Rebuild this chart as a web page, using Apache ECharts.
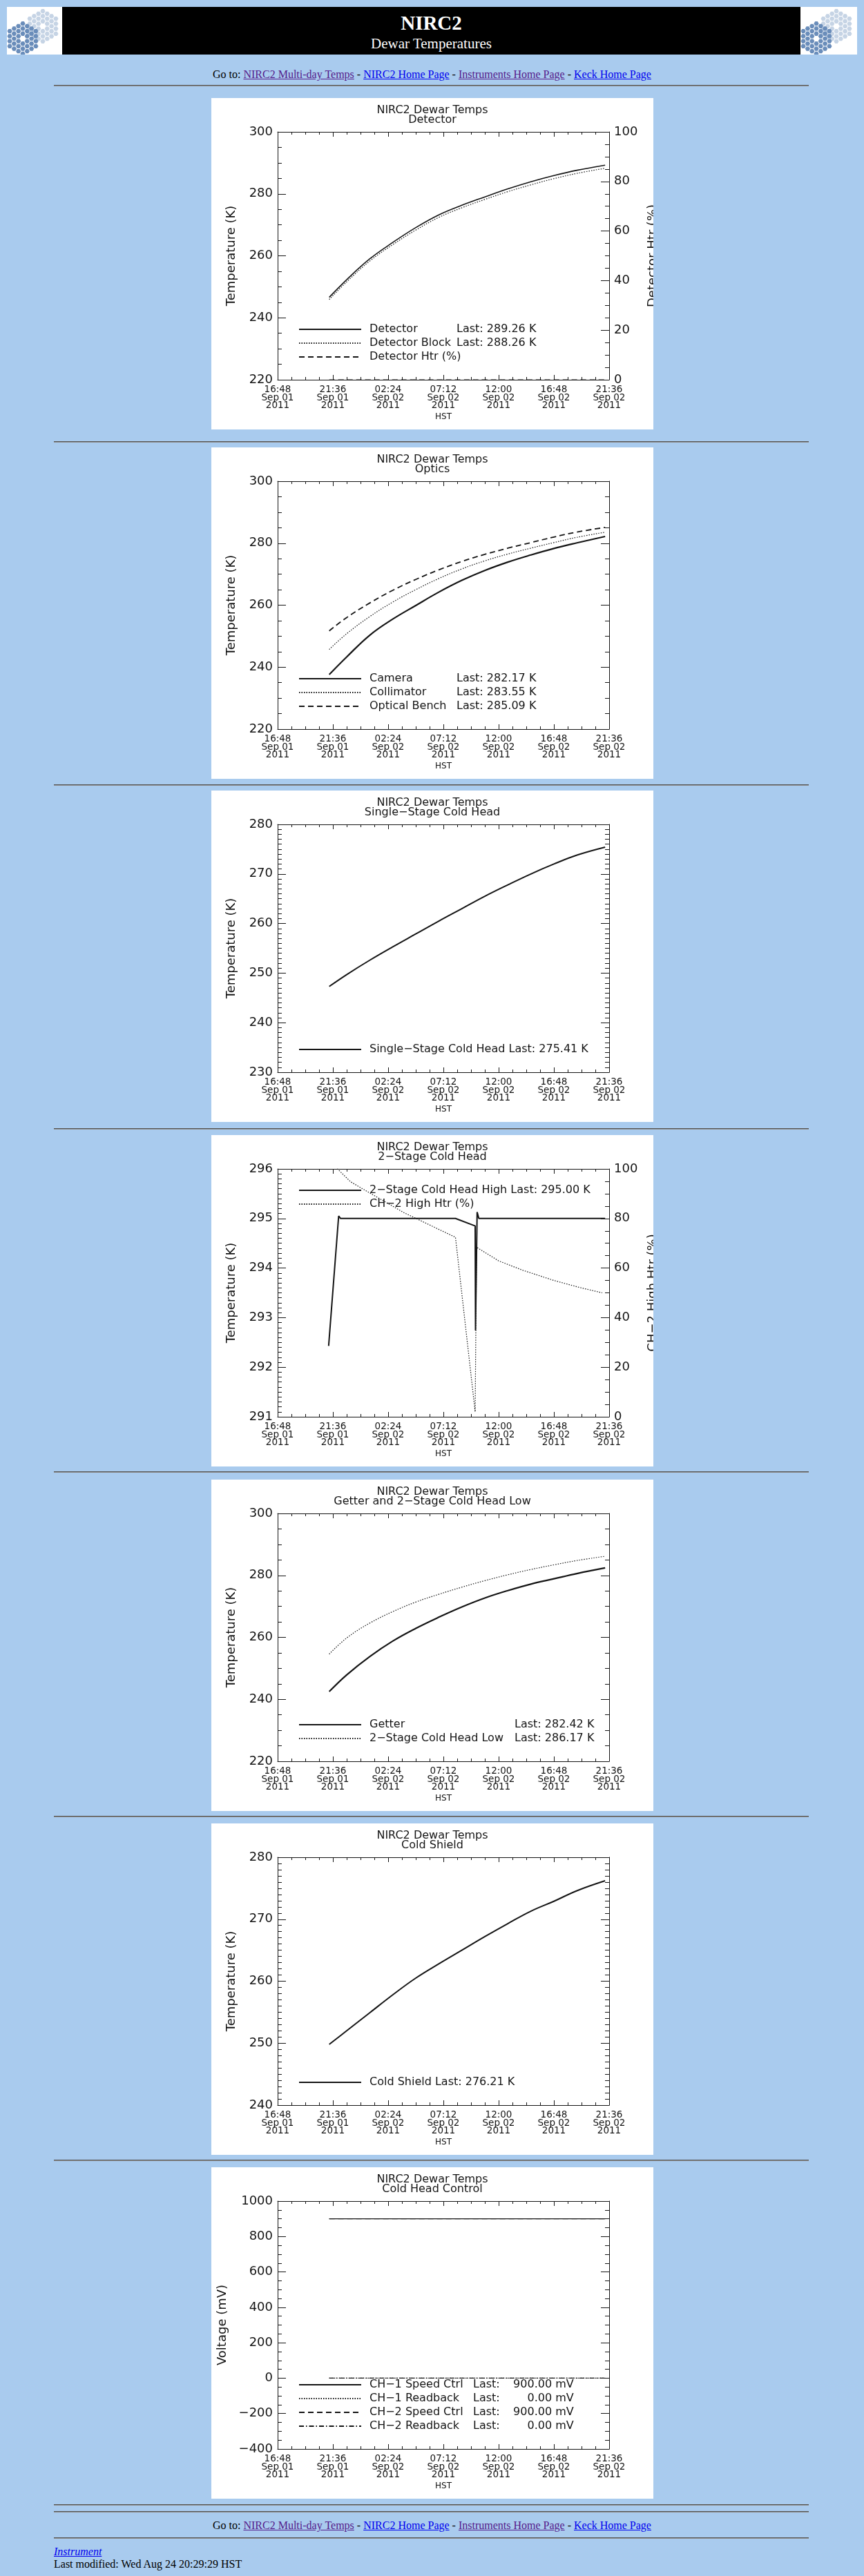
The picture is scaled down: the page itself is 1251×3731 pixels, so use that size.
<!DOCTYPE html>
<html>
<head>
<meta charset="utf-8">
<title>NIRC2 Dewar Temperatures</title>
<script src="https://cdn.jsdelivr.net/npm/echarts@6/dist/echarts.min.js"></script>
<style>
html, body { margin: 0; padding: 0; }
body {
  background: #a9cbee; width: 1251px; height: 3731px; position: relative; overflow: hidden;
  font-family: "Liberation Serif", "Times New Roman", serif; font-size: 16px; color: #000;
}
a { color: #0000ee; }
a.v { color: #551a8b; }
.hr { position: absolute; left: 78px; width: 1093px; height: 0; border-top: 1px solid #555; border-bottom: 1px solid #8c8c8c; }
.goto { position: absolute; left: 0; width: 1251px; text-align: center; line-height: 20px; }
.panel { position: absolute; left: 306px; width: 640px; height: 480px; background: #fff; }
.icon { position: absolute; top: 10px; height: 69px; background: #fff; overflow: hidden; }
#bar { position: absolute; left: 90px; top: 10px; width: 1069px; height: 69px; background: #000; color: #fff; text-align: center; }
#bar .t1 { position: absolute; left: 0; width: 100%; top: 8px; font-size: 29px; font-weight: bold; line-height: 30px; }
#bar .t2 { position: absolute; left: 0; width: 100%; top: 42px; font-size: 21px; line-height: 22px; }
.foot { position: absolute; left: 78px; line-height: 18px; }
</style>
</head>
<body>
<div class="icon" id="iconL" style="left:10px;width:80px"></div>
<div id="bar"><div class="t1">NIRC2</div><div class="t2">Dewar Temperatures</div></div>
<div class="icon" id="iconR" style="left:1159px;width:82px"></div>

<div class="goto" style="top:98px">Go to: <a class="v" href="#">NIRC2 Multi-day Temps</a> - <a href="#">NIRC2 Home Page</a> - <a class="v" href="#">Instruments Home Page</a> - <a href="#">Keck Home Page</a></div>
<div class="hr" style="top:123px"></div>

<div class="panel" id="p1" style="top:142px"></div>
<div class="hr" style="top:639px"></div>
<div class="panel" id="p2" style="top:648px"></div>
<div class="hr" style="top:1136px"></div>
<div class="panel" id="p3" style="top:1145px"></div>
<div class="hr" style="top:1634px"></div>
<div class="panel" id="p4" style="top:1644px"></div>
<div class="hr" style="top:2131px"></div>
<div class="panel" id="p5" style="top:2143px"></div>
<div class="hr" style="top:2630px"></div>
<div class="panel" id="p6" style="top:2641px"></div>
<div class="hr" style="top:3128px"></div>
<div class="panel" id="p7" style="top:3139px"></div>
<div class="hr" style="top:3627px"></div>
<div class="hr" style="top:3637px"></div>

<div class="goto" style="top:3648px">Go to: <a class="v" href="#">NIRC2 Multi-day Temps</a> - <a href="#">NIRC2 Home Page</a> - <a class="v" href="#">Instruments Home Page</a> - <a href="#">Keck Home Page</a></div>
<div class="hr" style="top:3675px"></div>
<div class="foot" style="top:3687px"><a href="#"><i>Instrument</i></a></div>
<div class="foot" style="top:3705px">Last modified: Wed Aug 24 20:29:29 HST</div>

<script>
// hours since 16:48 HST Sep 01 2011
const xTickLabels = [
  '16:48\nSep 01\n2011', '21:36\nSep 01\n2011', '02:24\nSep 02\n2011', '07:12\nSep 02\n2011',
  '12:00\nSep 02\n2011', '16:48\nSep 02\n2011', '21:36\nSep 02\n2011'
]
const hrs = [4.48, 6.0, 8.0, 10.0, 12.0, 14.0, 16.0, 18.0, 20.0, 22.0, 24.0, 26.0, 28.45]

// Detector
const detector = [246.6, 252.3, 259.0, 264.3, 269.1, 273.2, 276.3, 279.0, 281.6, 283.9, 285.9, 287.6, 289.26]
const detectorBlock = [245.9, 251.6, 258.3, 263.6, 268.3, 272.4, 275.5, 278.2, 280.7, 282.9, 284.9, 286.6, 288.26]
const detectorHtr = [0, 0, 0, 0, 0, 0, 0, 0, 0, 0, 0, 0, 0]

// Optics
const camera = [237.6, 243.3, 250.3, 255.5, 259.9, 264.2, 268.0, 271.2, 273.9, 276.2, 278.3, 280.1, 282.17]
const collimator = [245.7, 250.8, 256.3, 261.0, 265.0, 268.6, 271.7, 274.3, 276.5, 278.4, 280.2, 281.9, 283.55]
const opticalBench = [251.7, 256.0, 260.7, 264.8, 268.3, 271.4, 274.1, 276.4, 278.4, 280.2, 282.0, 283.6, 285.09]

// Single-stage cold head
const singleStage = [247.3, 249.7, 252.6, 255.3, 257.9, 260.5, 263.0, 265.5, 267.8, 270.0, 272.0, 273.8, 275.41]

// 2-stage cold head (own time samples)
const highHrs = [4.43, 5.3, 5.47, 15.45, 17.16, 17.19, 17.33, 17.48, 28.45]
const coldHeadHigh = [292.43, 295.05, 295.0, 295.0, 294.85, 292.74, 295.13, 295.0, 295.0]
const htrHrs = [4.43, 6.34, 10.9, 15.45, 17.16, 17.28, 19.2, 21.3, 24.0, 26.2, 28.2]
const ch2HighHtr = [103.5, 94.8, 82.5, 72.4, 2, 68.4, 62.9, 59.1, 55.0, 52.2, 50.0]

// Getter and 2-stage low
const getter = [242.5, 247.9, 253.8, 258.8, 262.9, 266.5, 269.8, 272.7, 275.1, 277.2, 278.9, 280.6, 282.42]
const coldHeadLow = [254.6, 259.8, 264.6, 268.3, 271.4, 273.9, 276.2, 278.3, 280.2, 281.9, 283.4, 284.8, 286.17]

// Cold shield
const coldShield = [249.8, 252.0, 254.9, 257.8, 260.5, 262.8, 265.0, 267.2, 269.3, 271.3, 272.9, 274.6, 276.21]

// Cold head control (mV)
const ctrlHrs = [4.48, 28.45]
const ch1Speed = [900, 900]
const ch1Readback = [0, 0]
const ch2Speed = [900, 900]
const ch2Readback = [0, 0]

const FONT = 'DejaVu Sans'
const INK = '#141414'
const DOT = [1.5, 2]
const DASH = [8, 5]
const DASHDOT = [7, 3, 1.5, 3]

const pairs = (xs, ys) => xs.map((x, i) => [x, ys[i]])
const fmtNum = v => String(v).replace('-', '\u2212')

const panels = [
  {
    id: 'p1', sub: 'Detector', y: [220, 300, 20, 4], yName: 'Temperature (K)',
    y2: { min: 0, max: 100, step: 20, minor: 4, name: 'Detector Htr (%)' },
    legend: { bottom: 97, nameW: 126 },
    series: [
      { name: 'Detector', data: pairs(hrs, detector), width: 1.6, leg: ['Detector', 'Last: 289.26 K'] },
      { name: 'Detector Block', data: pairs(hrs, detectorBlock), width: 1.2, type: DOT, leg: ['Detector Block', 'Last: 288.26 K'] },
      { name: 'Detector Htr (%)', data: pairs(hrs, detectorHtr), width: 1, type: DASH, axis: 1, leg: ['Detector Htr (%)'] }
    ]
  },
  {
    id: 'p2', sub: 'Optics', y: [220, 300, 20, 4], yName: 'Temperature (K)',
    legend: { bottom: 97, nameW: 126 },
    series: [
      { name: 'Camera', data: pairs(hrs, camera), width: 2.2, leg: ['Camera', 'Last: 282.17 K'] },
      { name: 'Collimator', data: pairs(hrs, collimator), width: 1.2, type: DOT, leg: ['Collimator', 'Last: 283.55 K'] },
      { name: 'Optical Bench', data: pairs(hrs, opticalBench), width: 1.8, type: DASH, leg: ['Optical Bench', 'Last: 285.09 K'] }
    ]
  },
  {
    id: 'p3', sub: 'Single\u2212Stage Cold Head', y: [230, 280, 10, 10], yName: 'Temperature (K)',
    legend: { bottom: 97 },
    series: [
      { name: 'Single-Stage Cold Head', data: pairs(hrs, singleStage), width: 2, leg: ['Single\u2212Stage Cold Head Last: 275.41 K'] }
    ]
  },
  {
    id: 'p4', sub: '2\u2212Stage Cold Head', y: [291, 296, 1, 10], yName: 'Temperature (K)',
    y2: { min: 0, max: 100, step: 20, minor: 4, name: 'CH\u22122 High Htr (%)' },
    legend: { top: 72 }, straight: true,
    series: [
      { name: '2-Stage Cold Head High', data: pairs(highHrs, coldHeadHigh), width: 2, leg: ['2\u2212Stage Cold Head High Last: 295.00 K'] },
      { name: 'CH-2 High Htr (%)', data: pairs(htrHrs, ch2HighHtr), width: 1.2, type: DOT, axis: 1, leg: ['CH\u22122 High Htr (%)'] }
    ]
  },
  {
    id: 'p5', sub: 'Getter and 2\u2212Stage Cold Head Low', y: [220, 300, 20, 4], yName: 'Temperature (K)',
    legend: { bottom: 97, nameW: 210 },
    series: [
      { name: 'Getter', data: pairs(hrs, getter), width: 2.2, leg: ['Getter', 'Last: 282.42 K'] },
      { name: '2-Stage Cold Head Low', data: pairs(hrs, coldHeadLow), width: 1.2, type: DOT, leg: ['2\u2212Stage Cold Head Low', 'Last: 286.17 K'] }
    ]
  },
  {
    id: 'p6', sub: 'Cold Shield', y: [240, 280, 10, 10], yName: 'Temperature (K)',
    legend: { bottom: 97 },
    series: [
      { name: 'Cold Shield', data: pairs(hrs, coldShield), width: 2, leg: ['Cold Shield Last: 276.21 K'] }
    ]
  },
  {
    id: 'p7', sub: 'Cold Head Control', y: [-400, 1000, 200, 4], yName: 'Voltage (mV)', yNameGap: 71,
    legend: { bottom: 97, nameW: 150, valW: 107 }, straight: true,
    series: [
      { name: 'CH-1 Speed Ctrl', data: pairs(ctrlHrs, ch1Speed), width: 1.4, leg: ['CH\u22121 Speed Ctrl', 'Last:', '900.00 mV'] },
      { name: 'CH-1 Readback', data: pairs(ctrlHrs, ch1Readback), width: 1.2, type: DOT, leg: ['CH\u22121 Readback', 'Last:', '0.00 mV'] },
      { name: 'CH-2 Speed Ctrl', data: pairs(ctrlHrs, ch2Speed), width: 1, type: DASH, leg: ['CH\u22122 Speed Ctrl', 'Last:', '900.00 mV'] },
      { name: 'CH-2 Readback', data: pairs(ctrlHrs, ch2Readback), width: 1.3, type: DASHDOT, leg: ['CH\u22122 Readback', 'Last:', '0.00 mV'] }
    ]
  }
]

const txt = (size, extra) => Object.assign({ fontFamily: FONT, fontSize: size, color: INK }, extra || {})

const xAxis = position => ({
  type: 'value', position, min: 0, max: 28.8, interval: 4.8,
  axisLine: { show: true, onZero: false, lineStyle: { color: INK, width: 1 } },
  axisTick: { show: true, inside: true, length: 7, lineStyle: { color: INK } },
  minorTick: { show: true, splitNumber: 4, length: 4, lineStyle: { color: INK } },
  splitLine: { show: false },
  axisLabel: position === 'bottom'
    ? txt(13.5, { margin: 8.5, lineHeight: 11.7, hideOverlap: false, formatter: v => xTickLabels[Math.round(v / 4.8)] })
    : { show: false },
  name: position === 'bottom' ? 'HST' : '',
  nameLocation: 'middle', nameGap: 48, nameMoveOverlap: false,
  nameTextStyle: txt(12)
})

const yAxis = (position, min, max, step, minor, label, name, gap) => ({
  type: 'value', position, min, max, interval: step,
  axisLine: { show: true, onZero: false, lineStyle: { color: INK, width: 1 } },
  axisTick: { show: true, inside: true, length: 12, lineStyle: { color: INK } },
  minorTick: { show: true, splitNumber: minor, length: 6, lineStyle: { color: INK } },
  splitLine: { show: false },
  axisLabel: label ? txt(18, { margin: 7, hideOverlap: false, formatter: fmtNum }) : { show: false },
  name: name || '', nameLocation: 'middle', nameRotate: 90, nameGap: gap, nameMoveOverlap: false,
  nameTextStyle: txt(18)
})

const legendFormatter = p => name => {
  const s = p.series.find(d => d.name === name)
  const leg = s.leg
  if (leg.length === 1) return `{s|${leg[0]}}`
  if (leg.length === 2) return `{n|${leg[0]}}{l|${leg[1]}}`
  return `{n|${leg[0]}}{l|${leg[1]}}{v|${leg[2]}}`
}

const buildOption = p => {
  const [ymin, ymax, ystep, yminor] = p.y
  const rightAxis = p.y2
    ? yAxis('right', p.y2.min, p.y2.max, p.y2.step, p.y2.minor, true, p.y2.name, 54)
    : yAxis('right', ymin, ymax, ystep, yminor, false)
  const legendPos = p.legend.top !== undefined ? { top: p.legend.top } : { bottom: p.legend.bottom }
  return {
    animation: false,
    title: {
      text: 'NIRC2 Dewar Temps\n' + p.sub,
      left: 'center', top: 6, padding: [5, 0, 5, 32],
      textStyle: txt(16, { fontWeight: 'normal', lineHeight: 14 })
    },
    grid: { left: 96, right: 64, top: 49, bottom: 72, containLabel: false, outerBoundsMode: 'none' },
    xAxis: [xAxis('bottom'), xAxis('top')],
    yAxis: [yAxis('left', ymin, ymax, ystep, yminor, true, p.yName, p.yNameGap || 58), rightAxis],
    legend: Object.assign({
      orient: 'vertical', left: 126, padding: 0,
      itemWidth: 90, itemHeight: 14, itemGap: 4, selectedMode: false,
      // hide the marker ECharts puts in the middle of line-series legend icons
      itemStyle: { color: 'rgba(0,0,0,0)', borderColor: 'rgba(0,0,0,0)', borderWidth: 0, opacity: 0 },
      data: p.series.map(s => s.name),
      formatter: legendFormatter(p),
      textStyle: {
        rich: {
          s: txt(16, { lineHeight: 14, padding: [0, 0, 0, 7] }),
          n: txt(16, { lineHeight: 14, padding: [0, 0, 0, 7], width: p.legend.nameW || 0 }),
          l: txt(16, { lineHeight: 14 }),
          v: txt(16, { lineHeight: 14, width: p.legend.valW || 0, align: 'right' })
        }
      }
    }, legendPos),
    series: p.series.map(s => ({
      type: 'line', name: s.name, data: s.data,
      xAxisIndex: 0, yAxisIndex: s.axis || 0,
      symbol: 'none', showSymbol: false, clip: true,
      smooth: p.straight ? false : 0.4,
      lineStyle: { color: INK, width: s.width, type: s.type || 'solid' },
      itemStyle: { color: INK }
    }))
  }
}

panels.forEach(p => {
  const chart = echarts.init(document.getElementById(p.id), null, { renderer: 'canvas' })
  chart.setOption(buildOption(p))
})

// Keck segmented mirror icons in the header
const keckIcon = w => {
  const s = 4.2
  const cells = []
  for (let q = -3; q <= 3; q++) {
    for (let r = -3; r <= 3; r++) {
      if (Math.max(Math.abs(q), Math.abs(r), Math.abs(q + r)) > 3 || (q === 0 && r === 0)) continue
      cells.push([q, r])
    }
  }
  const hex = (cx, cy, rad) => {
    const pts = []
    for (let k = 0; k < 6; k++) {
      const a = Math.PI / 3 * k
      pts.push((cx + rad * Math.cos(a)).toFixed(1) + ',' + (cy + rad * Math.sin(a)).toFixed(1))
    }
    return pts.join(' ')
  }
  const mirror = (cx, cy, fill) => cells.map(([q, r]) =>
    `<polygon points="${hex(cx + s * 1.5 * q, cy + s * Math.sqrt(3) * (r + q / 2), s * 0.86)}" fill="${fill}"/>`
  ).join('')
  return `<svg width="${w}" height="69" xmlns="http://www.w3.org/2000/svg">` +
    mirror(52, 28, '#c6d4e5') + mirror(23, 46, '#6a8dba') + '</svg>'
}
document.getElementById('iconL').innerHTML = keckIcon(80)
document.getElementById('iconR').innerHTML = keckIcon(82)
</script>
</body>
</html>
